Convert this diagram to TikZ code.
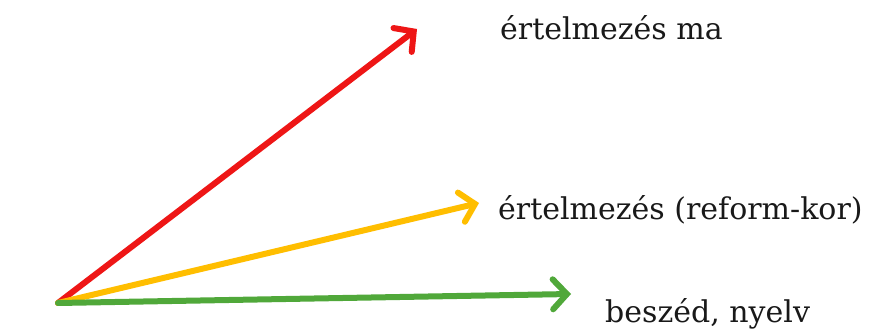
\documentclass[tikz,border=0pt]{standalone}
\usepackage{fontspec}
\setmainfont{DejaVu Serif}
\usetikzlibrary{arrows.meta}
\definecolor{cred}{RGB}{238,22,22}
\definecolor{cyel}{RGB}{255,190,0}
\definecolor{cgrn}{RGB}{80,168,58}
\begin{document}
\begin{tikzpicture}[x=1pt,y=1pt,
  vec/.style={line width=6pt, line cap=round, -{Straight Barb[length=14pt,width=30pt,line cap=round]}},
  lab/.style={anchor=base west, inner sep=0pt, font=\fontsize{30}{34}\selectfont, text=black!90}]
\useasboundingbox[fill=white] (0,0) rectangle (878,331);
\coordinate (o) at (58,28);
\coordinate (r) at (417,302);
\coordinate (y) at (479,128);
\coordinate (g) at (571,37);
\draw[vec, cred] (o) -- (r);
\draw[vec, cyel] (o) -- (y);
\draw[vec, cgrn] (o) -- (g);
\node[lab] (lr) at (500,291) {értelmezés ma};
\node[lab] (ly) at (498,111) {értelmezés (reform-kor)};
\node[lab] (lg) at (605,8) {beszéd, nyelv};
\end{tikzpicture}
\end{document}
